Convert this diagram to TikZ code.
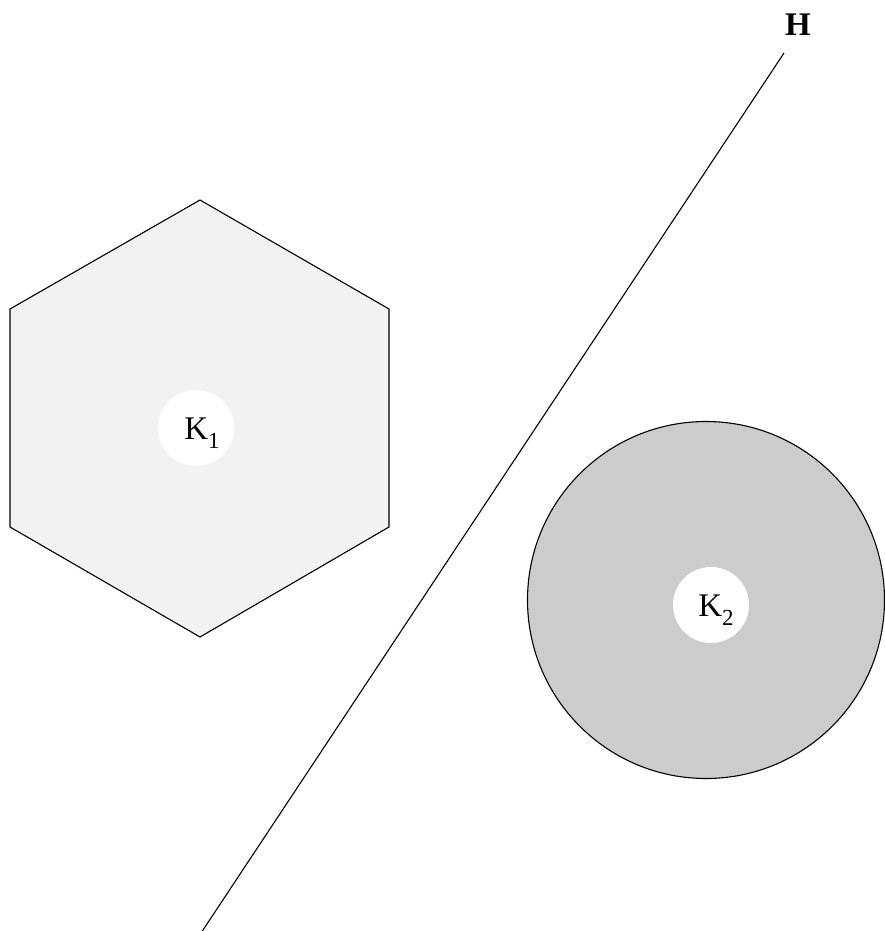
\documentclass[tikz,border=0pt]{standalone}
\usepackage{fontspec}
\setmainfont{Liberation Serif}
\definecolor{hexfill}{HTML}{F2F2F2}
\definecolor{circfill}{HTML}{CCCCCC}
\tikzset{
  shapeline/.style={draw=black, line width=1.1pt},
  holder/.style={circle, fill=white, minimum size=76pt, inner sep=0pt},
  lbl/.style={font=\fontsize{33}{33}\selectfont, inner sep=0pt},
}
\newcommand{\mysub}[1]{\raisebox{-0.28em}{\fontsize{23}{23}\selectfont #1}}
\begin{document}
\begin{tikzpicture}[x=1pt,y=-1pt]
\useasboundingbox (0,0) rectangle (885,931);
% hexagon
\coordinate (h1) at (200,200);
\coordinate (h2) at (389,309);
\coordinate (h3) at (389,527);
\coordinate (h4) at (200,637);
\coordinate (h5) at (10,527);
\coordinate (h6) at (10,309);
\filldraw[shapeline, fill=hexfill, line join=miter] (h1) -- (h2) -- (h3) -- (h4) -- (h5) -- (h6) -- cycle;
% big circle
\node[circle, minimum size=357pt, inner sep=0pt, shapeline, fill=circfill] (disk) at (706,600) {};
% separating line
\coordinate (lb) at (201,933);
\coordinate (lt) at (784,53);
\draw[line width=1.1pt] (lb) -- (lt);
\node[font=\fontsize{33}{33}\selectfont\bfseries, inner sep=0pt] (H) at (798,25) {H};
% labels
\node[holder] (k1) at (196,428) {};
\node[lbl] (k1t) at (202,433) {K\mysub{1}};
\node[holder] (k2) at (711,605) {};
\node[lbl] (k2t) at (716,610) {K\mysub{2}};
\end{tikzpicture}
\end{document}
